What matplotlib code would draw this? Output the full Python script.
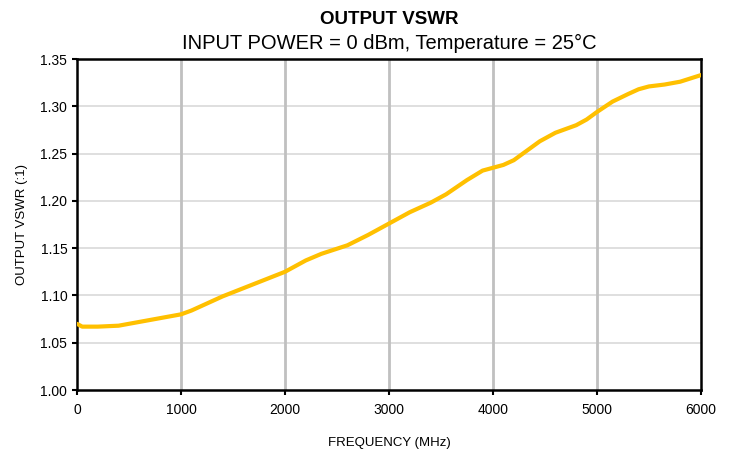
import numpy as np
import matplotlib.pyplot as plt

plt.rcParams['font.family'] = ['Liberation Sans', 'DejaVu Sans']

# values
freq_mhz = [0, 50, 200, 400, 600, 800, 1000, 1100, 1400, 1700, 2000, 2200, 2350,
            2600, 2800, 3000, 3100, 3200, 3300, 3400, 3550, 3750, 3900, 4000,
            4100, 4200, 4300, 4450, 4600, 4800, 4900, 5000, 5150, 5300, 5400,
            5500, 5650, 5800, 6000]
vswr = [1.070, 1.067, 1.067, 1.068, 1.072, 1.076, 1.080, 1.084, 1.099, 1.112,
        1.125, 1.137, 1.144, 1.153, 1.164, 1.176, 1.182, 1.188, 1.193, 1.198,
        1.207, 1.222, 1.232, 1.235, 1.238, 1.243, 1.251, 1.263, 1.272, 1.280,
        1.286, 1.294, 1.305, 1.313, 1.318, 1.321, 1.323, 1.326, 1.333]

x_ticks = [0, 1000, 2000, 3000, 4000, 5000, 6000]
y_ticks = [1.00, 1.05, 1.10, 1.15, 1.20, 1.25, 1.30, 1.35]

fig = plt.figure(figsize=(7.34, 4.53), dpi=100)
ax = fig.add_axes([77/734, 1 - 390/453, 624/734, 331/453])

for yv in y_ticks[1:-1]:
    ax.axhline(yv, color='#d9d9d9', lw=1.2, zorder=1)
for xv in x_ticks[1:-1]:
    ax.axvline(xv, color='#c0c0c0', lw=2.0, zorder=1)

ax.plot(freq_mhz, vswr, color='#ffc000', lw=3.0, solid_joinstyle='round',
        solid_capstyle='round', zorder=3)

ax.set_xlim(0, 6000)
ax.set_ylim(1.00, 1.35)
ax.set_xticks(x_ticks)
ax.set_yticks(y_ticks)
ax.set_yticklabels([f'{v:.2f}' for v in y_ticks])
ax.tick_params(axis='both', labelsize=10, direction='out', length=3.5, width=1.5, color='black')
ax.tick_params(axis='x', pad=6)
for s in ax.spines.values():
    s.set_linewidth(1.8)
    s.set_color('black')

ax.set_xlabel('FREQUENCY (MHz)', fontsize=9.5, labelpad=14)
ax.set_ylabel('OUTPUT VSWR (:1)', fontsize=9.5, labelpad=9)

fig.text(0.5 * (77 + 701) / 734, 1 - 20/453, 'OUTPUT VSWR', ha='center', va='center',
         fontsize=13.5, fontweight='bold')
fig.text(0.5 * (77 + 701) / 734, 1 - 43/453, 'INPUT POWER = 0 dBm, Temperature = 25°C',
         ha='center', va='center', fontsize=14.5)

fig.savefig('out.png', dpi=100)
